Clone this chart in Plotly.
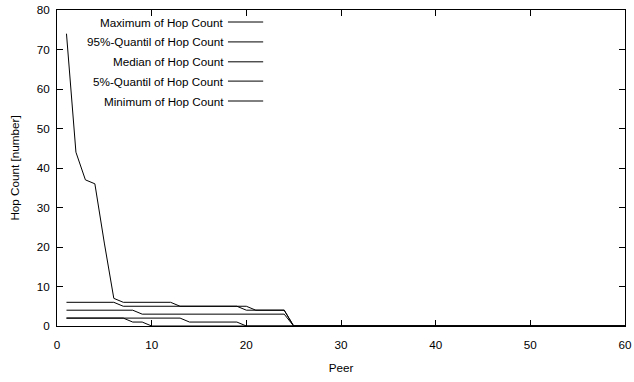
import plotly.graph_objects as go

peers = list(range(1, 61))
series_names = ["Maximum of Hop Count", "95%-Quantil of Hop Count", "Median of Hop Count",
                "5%-Quantil of Hop Count", "Minimum of Hop Count"]

max_hops = [74, 44, 37, 36, 21, 7, 6, 6, 6, 6, 6, 6, 5, 5, 5, 5, 5, 5, 5, 5, 4, 4, 4, 4] + [0] * 36
q95_hops = [6, 6, 6, 6, 6, 6, 5, 5, 5, 5, 5, 5, 5, 5, 5, 5, 5, 5, 5, 4, 4, 4, 4, 4] + [0] * 36
median_hops = [4, 4, 4, 4, 4, 4, 4, 4, 3, 3, 3, 3, 3, 3, 3, 3, 3, 3, 3, 3, 3, 3, 3, 3] + [0] * 36
q05_hops = [2, 2, 2, 2, 2, 2, 2, 2, 2, 2, 2, 2, 2, 1, 1, 1, 1, 1, 1, 0, 0, 0, 0, 0] + [0] * 36
min_hops = [2, 2, 2, 2, 2, 2, 2, 1, 1, 0, 0, 0, 0, 0, 0, 0, 0, 0, 0, 0, 0, 0, 0, 0] + [0] * 36

all_series = [max_hops, q95_hops, median_hops, q05_hops, min_hops]

x_ticks = [0, 10, 20, 30, 40, 50, 60]
y_ticks = [0, 10, 20, 30, 40, 50, 60, 70, 80]

FONT = "Liberation Sans, Arial, Helvetica, sans-serif"
FS = 11.7

fig = go.Figure()
for name, vals in zip(series_names, all_series):
    fig.add_trace(go.Scatter(x=peers, y=vals, mode="lines", name=name,
                             line=dict(color="black", width=1), showlegend=False))

# gnuplot-style legend: right-aligned text with line sample on the right
leg_y = [0.962, 0.899, 0.836, 0.775, 0.712]
for name, yy in zip(series_names, leg_y):
    fig.add_annotation(xref="paper", yref="paper", x=0.2975, y=yy, text=name,
                       showarrow=False, xanchor="right", yanchor="middle",
                       font=dict(family=FONT, size=FS, color="black"))
    fig.add_shape(type="line", xref="paper", yref="paper", x0=0.301, x1=0.363, y0=yy, y1=yy,
                  line=dict(color="black", width=1))

axis_common = dict(showgrid=False, zeroline=False, showline=True, linecolor="black", linewidth=1,
                   mirror="allticks", ticks="inside", ticklen=6, tickcolor="black", tickwidth=1,
                   automargin=False,
                   tickfont=dict(family=FONT, size=FS, color="black"))

fig.update_xaxes(range=[0, 60], tickvals=x_ticks, ticktext=[str(v) for v in x_ticks],
                 ticklabelstandoff=8,
                 title=dict(text="Peer", font=dict(family=FONT, size=FS, color="black"), standoff=13),
                 **axis_common)
fig.update_yaxes(range=[0, 80], tickvals=y_ticks, ticktext=[str(v) for v in y_ticks],
                 ticklabelstandoff=4,
                 title=dict(text="Hop Count [number]", font=dict(family=FONT, size=FS, color="black"), standoff=14),
                 **axis_common)

fig.update_layout(width=634, height=382, margin=dict(l=57, r=9, t=10, b=56),
                  plot_bgcolor="white", paper_bgcolor="white",
                  font=dict(family=FONT, size=FS, color="black"))

fig.write_html("out.html", config={"displayModeBar": False},
               post_script="document.body.style.margin='0';document.body.style.padding='0';")
